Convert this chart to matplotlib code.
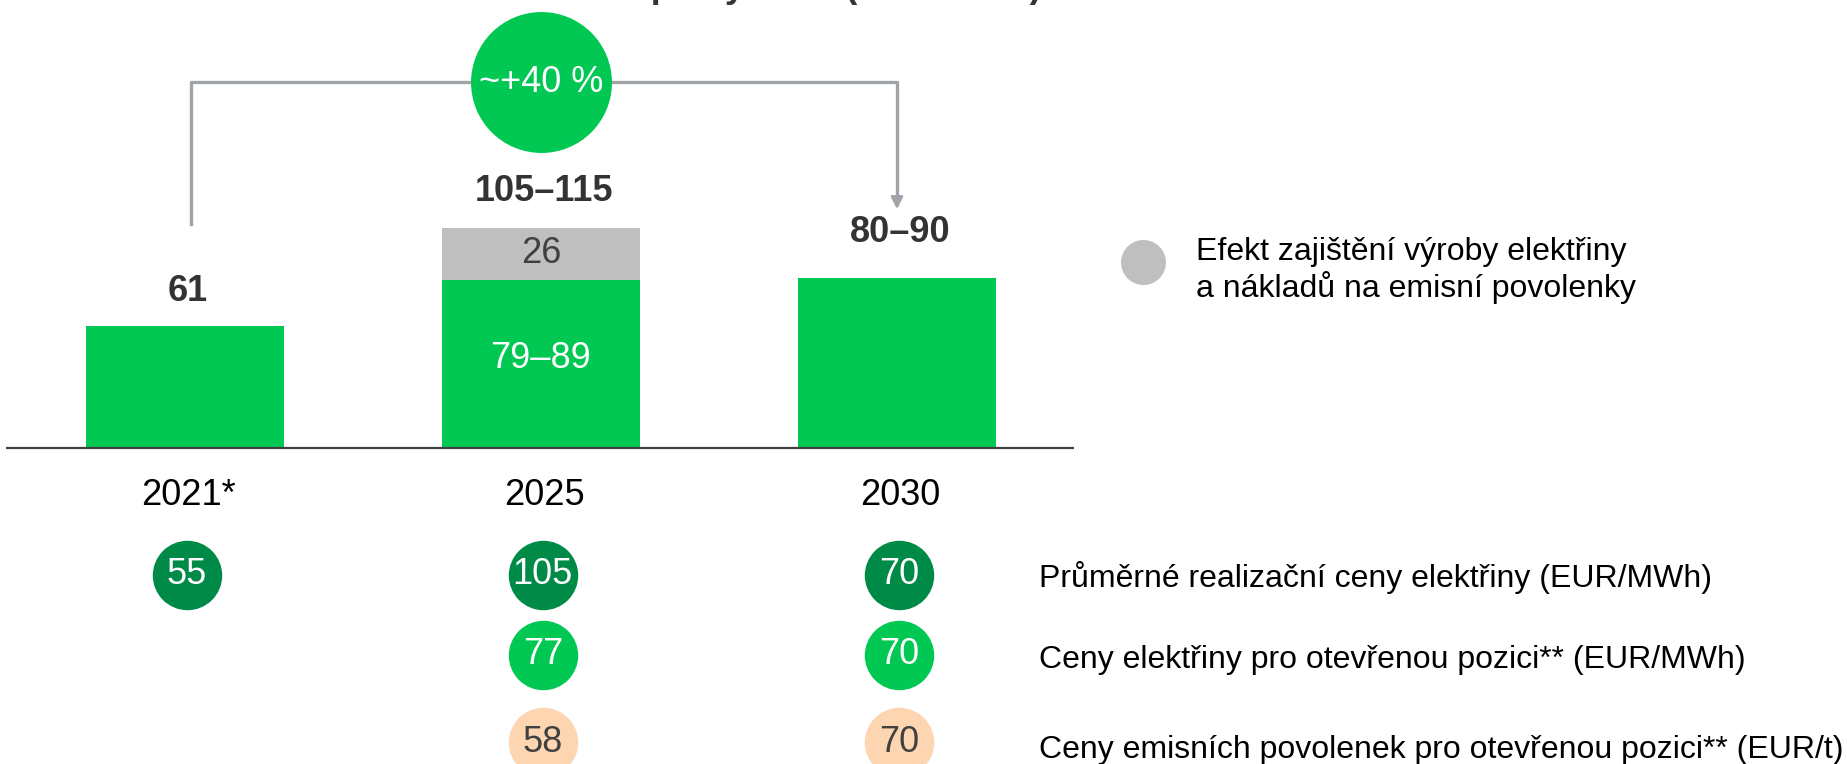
import numpy as np
import matplotlib.pyplot as plt

plt.rcParams['font.family'] = ['Liberation Sans', 'DejaVu Sans']

# data
years = ["2021*", "2025", "2030"]
base_values = [61, 84, 85]
hedge_values = [0, 26, 0]
total_labels = ["61", "105–115", "80–90"]
base_inner_labels = ["", "79–89", ""]
hedge_inner_labels = ["", "26", ""]
growth_label = "~+40 %"
legend_label = ["Efekt zajištění výroby elektřiny", "a nákladů na emisní povolenky"]

realized_prices = [55, 105, 70]
open_power_prices = [None, 77, 70]
open_co2_prices = [None, 58, 70]
row_labels = ["Průměrné realizační ceny elektřiny (EUR/MWh)",
              "Ceny elektřiny pro otevřenou pozici** (EUR/MWh)",
              "Ceny emisních povolenek pro otevřenou pozici** (EUR/t)"]

green = "#00C853"
dark_green = "#008A47"
peach = "#FDD5B1"
grey_bar = "#BFBFBF"
line_grey = "#A0A4A8"
txt_dark = "#333333"

W, H = 1847, 764
fig = plt.figure(figsize=(W / 100, H / 100), dpi=100)
ax = fig.add_axes([0, 0, 1, 1])
# 356 px per category, 2 px per unit, baseline at 448 px from top
ax.set_xlim(-185 / 356, (W - 185) / 356)
ax.set_ylim(-158, 224)
ax.axis("off")

x = np.arange(len(years))
bw = 198 / 356
ax.bar(x, base_values, width=bw, color=green, zorder=2)
ax.bar(x, hedge_values, bottom=base_values, width=bw, color=grey_bar, zorder=2)
ax.plot([-0.503, 2.497], [0, 0], color="#404040", lw=1.6, zorder=3, solid_capstyle="butt")

# value labels above bars
totals = np.array(base_values) + np.array(hedge_values)
label_offsets = [25, 26, 33]
for xi, t, lab, off in zip(x, totals, total_labels, label_offsets):
    ax.annotate(lab, (xi, t), xytext=(2, off), textcoords="offset points",
                ha="center", va="center", fontsize=26, fontweight="bold", color=txt_dark)

for xi, b, h, lab_b, lab_h in zip(x, base_values, hedge_values, base_inner_labels, hedge_inner_labels):
    if lab_b:
        ax.text(xi, b / 2 + 2.5, lab_b, ha="center", va="center", fontsize=26, color="white")
    if lab_h:
        ax.text(xi, b + h / 2, lab_h, ha="center", va="center", fontsize=26, color="#404040")

# year labels
for xi, yr in zip(x, years):
    ax.text(xi + 0.01, -24, yr, ha="center", va="center", fontsize=26, color="black")

# growth bracket
ax.plot([0.017, 0.017, 2.0, 2.0], [112, 182.75, 182.75, 126], color=line_grey, lw=2.4, zorder=1)
ax.annotate("", xy=(2.0, 118), xytext=(2.0, 127),
            arrowprops=dict(arrowstyle="-|>,head_length=0.7,head_width=0.35", color=line_grey, lw=2))
ax.scatter([1.0], [182.75], s=10300, color=green, zorder=4, linewidths=0)
ax.text(1.0, 182.75, growth_label, ha="center", va="center", fontsize=26, color="white", zorder=5)

# price rows
rows = [(realized_prices, dark_green, "white", -63.5),
        (open_power_prices, green, "white", -103.5),
        (open_co2_prices, peach, "#404040", -147)]
for vals, col, tcol, yrow in rows:
    for xi, v in zip(x, vals):
        if v is None:
            continue
        ax.scatter([xi + 0.005], [yrow], s=2500, color=col, linewidths=0, zorder=3)
        ax.text(xi + 0.005, yrow, str(v), ha="center", va="center", fontsize=26, color=tcol, zorder=4)

for lab, yrow in zip(row_labels, [-65, -106, -151]):
    ax.text(2.40, yrow, lab, ha="left", va="center", fontsize=23, color="black")

# legend for hedge effect
ax.scatter([2.691], [93], s=1050, color=grey_bar, linewidths=0)
ax.text(2.84, 98, legend_label[0], ha="left", va="center", fontsize=23, color="black")
ax.text(2.84, 80, legend_label[1], ha="left", va="center", fontsize=23, color="black")

# title (cut off at the top edge in the source)
ax.text((1042 - 185) / 356, 225.3, "Hrubá marže – plány 2030 (EUR/MWh)", ha="right", va="baseline",
        fontsize=26, fontweight="bold", color=txt_dark, clip_on=False)

fig.savefig("out.png", dpi=100)
